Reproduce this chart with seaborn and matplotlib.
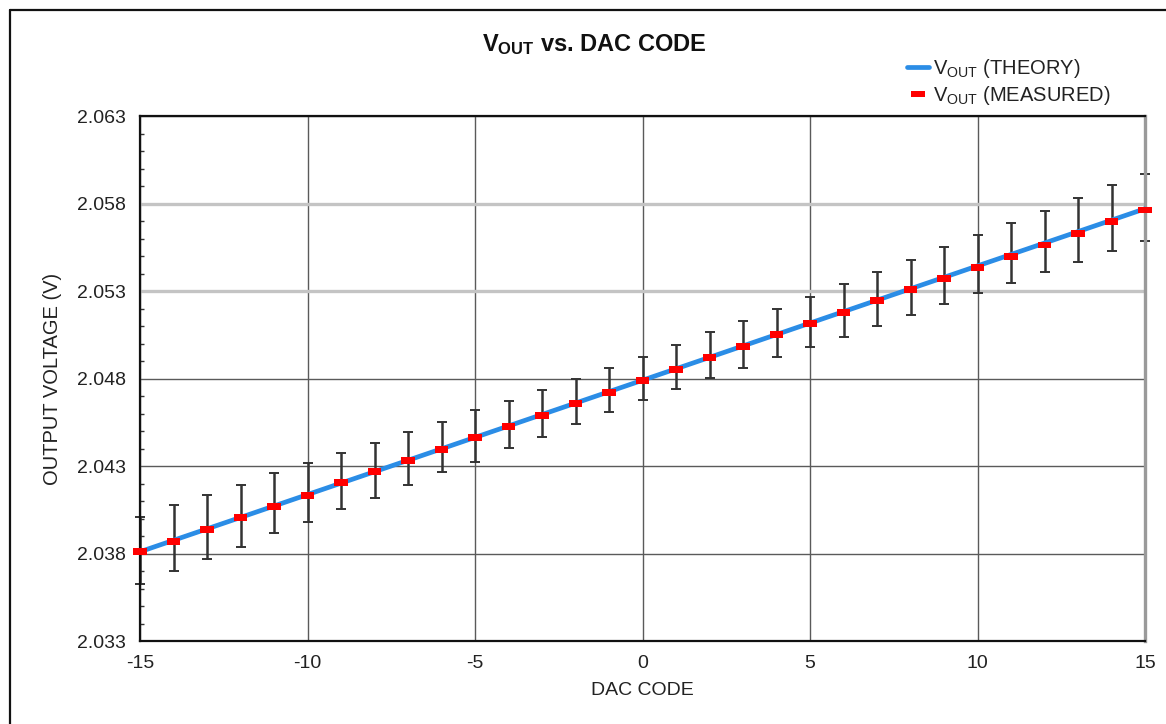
import matplotlib
matplotlib.use("Agg")
import matplotlib.pyplot as plt
import seaborn as sns
import numpy as np
import pandas as pd
from matplotlib.lines import Line2D
from matplotlib.ticker import MultipleLocator, FixedLocator

# ---------------- data ----------------
dac_code = list(range(-15, 16))
v_measured = [2.03809, 2.03871, 2.03938, 2.04005, 2.04071, 2.04134, 2.04205, 2.04267,
              2.04330, 2.04395, 2.04462, 2.04525, 2.04591, 2.04658, 2.04721, 2.04787,
              2.04853, 2.04921, 2.04982, 2.05049, 2.05115, 2.05178, 2.05245, 2.05310,
              2.05369, 2.05435, 2.05496, 2.05563, 2.05630, 2.05696, 2.05763]
v_upper = [2.04009, 2.04077, 2.04134, 2.04191, 2.04260, 2.04317, 2.04376, 2.04433,
           2.04494, 2.04553, 2.04620, 2.04673, 2.04734, 2.04797, 2.04858, 2.04921,
           2.04991, 2.05064, 2.05129, 2.05197, 2.05267, 2.05338, 2.05410, 2.05477,
           2.05550, 2.05620, 2.05689, 2.05757, 2.05830, 2.05906, 2.05969]
v_lower = [2.03626, 2.03702, 2.03769, 2.03839, 2.03915, 2.03982, 2.04054, 2.04119,
           2.04190, 2.04264, 2.04325, 2.04401, 2.04467, 2.04538, 2.04610, 2.04677,
           2.04740, 2.04801, 2.04858, 2.04921, 2.04982, 2.05039, 2.05102, 2.05163,
           2.05224, 2.05290, 2.05347, 2.05411, 2.05467, 2.05530, 2.05587]
theory_code = [-15, 15]
v_theory = [2.0381, 2.0577]

x_ticks = [-15, -10, -5, 0, 5, 10, 15]
x_tick_labels = ["-15", "-10", "-5", "0", "5", "10", "15"]
y_ticks = [2.033, 2.038, 2.043, 2.048, 2.053, 2.058, 2.063]
y_tick_labels = ["2.033", "2.038", "2.043", "2.048", "2.053", "2.058", "2.063"]
light_grid_values = [2.053, 2.058]

title_text = r"$\mathbf{V_{OUT}}$ vs. DAC CODE"
legend_labels = [r"$\mathrm{V_{OUT}}$ (THEORY)", r"$\mathrm{V_{OUT}}$ (MEASURED)"]
x_label = "DAC CODE"
y_label = "OUTPUT VOLTAGE (V)"

# ---------------- style ----------------
sns.set_style("white")
plt.rcParams["font.family"] = ["Liberation Sans", "DejaVu Sans"]
plt.rcParams["axes.unicode_minus"] = False
plt.rcParams["mathtext.fontset"] = "custom"
plt.rcParams["mathtext.rm"] = "Liberation Sans"
plt.rcParams["mathtext.it"] = "Liberation Sans:italic"
plt.rcParams["mathtext.bf"] = "Liberation Sans:bold"

BLUE = "#2b8de6"
RED = "#ff0000"
TXT = "#222222"

rect_marker = [(-1, -0.5), (1, -0.5), (1, 0.5), (-1, 0.5), (-1, -0.5)]

fig = plt.figure(figsize=(11.66, 7.24), dpi=100)
fig.patch.set_facecolor("white")
ax = fig.add_axes([140 / 1166, 1 - 641 / 724, (1145 - 140) / 1166, (641 - 116) / 724])

df_theory = pd.DataFrame({"code": theory_code, "v": v_theory})
df_meas = pd.DataFrame({"code": dac_code, "v": v_measured,
                        "lo": v_lower, "hi": v_upper})

sns.lineplot(data=df_theory, x="code", y="v", ax=ax, color=BLUE, lw=3.4,
             zorder=3, legend=False)

eb = ax.errorbar(df_meas["code"], df_meas["v"],
                 yerr=[df_meas["v"] - df_meas["lo"], df_meas["hi"] - df_meas["v"]],
                 fmt="none", ecolor="#333333", elinewidth=1.8, capsize=3.5,
                 capthick=1.4, zorder=2)
for art in list(eb.lines[1]) + list(eb.lines[2]):
    art.set_clip_on(False)

sns.scatterplot(data=df_meas, x="code", y="v", ax=ax, marker=rect_marker, s=100,
                color=RED, edgecolor="none", linewidth=0, zorder=4, clip_on=False,
                legend=False)

ax.set_xlim(-15, 15)
ax.set_ylim(2.033, 2.063)
ax.xaxis.set_major_locator(FixedLocator(x_ticks))
ax.set_xticklabels(x_tick_labels)
ax.yaxis.set_major_locator(FixedLocator(y_ticks))
ax.set_yticklabels(y_tick_labels)
ax.yaxis.set_minor_locator(MultipleLocator(0.001))

ax.set_axisbelow(True)
ax.grid(True, which="major", axis="both", color="#5a5a5a", lw=1.0)
for val, gl in zip(y_ticks, ax.get_ygridlines()):
    if any(abs(val - lv) < 1e-9 for lv in light_grid_values):
        gl.set_color("#c4c4c4")
        gl.set_linewidth(2.4)

ax.tick_params(axis="both", which="major", direction="out", length=5, width=1.3,
               color="#333333", labelsize=14, labelcolor=TXT, pad=5)
ax.tick_params(axis="y", which="minor", direction="in", length=3, width=1.0,
               color="#333333", left=True)

for side in ["left", "bottom", "top"]:
    ax.spines[side].set_color("#111111")
    ax.spines[side].set_linewidth(1.6)
ax.spines["right"].set_color("#9a9a9a")
ax.spines["right"].set_linewidth(2.4)

ax.set_xlabel(x_label, fontsize=14, color=TXT, labelpad=7)
ax.set_ylabel(y_label, fontsize=14.5, color=TXT, labelpad=11)

fig.text(594 / 1166, 1 - 45 / 724, title_text, ha="center", va="center",
         fontsize=17, fontweight="bold", color="#111111")

handles = [Line2D([0], [0], color=BLUE, lw=3.4),
           Line2D([0], [0], color=RED, ls="none", marker=rect_marker, markersize=10,
                  markeredgewidth=0)]
fig.legend(handles, legend_labels, loc="upper left",
           bbox_to_anchor=(907 / 1166, 1 - 57 / 724), frameon=False, fontsize=14.5,
           handlelength=1.1, handletextpad=0.2, labelspacing=0.2,
           borderaxespad=0, borderpad=0, labelcolor=TXT)

# outer frame (left and top edges visible in the reference)
fig.add_artist(Line2D([9.5 / 1166, 9.5 / 1166], [0, 1 - 9.5 / 724],
                      transform=fig.transFigure, color="#111111", lw=1.6))
fig.add_artist(Line2D([9.5 / 1166, 1], [1 - 9.5 / 724, 1 - 9.5 / 724],
                      transform=fig.transFigure, color="#111111", lw=1.6))

fig.savefig("out.png", dpi=100, facecolor="white")
